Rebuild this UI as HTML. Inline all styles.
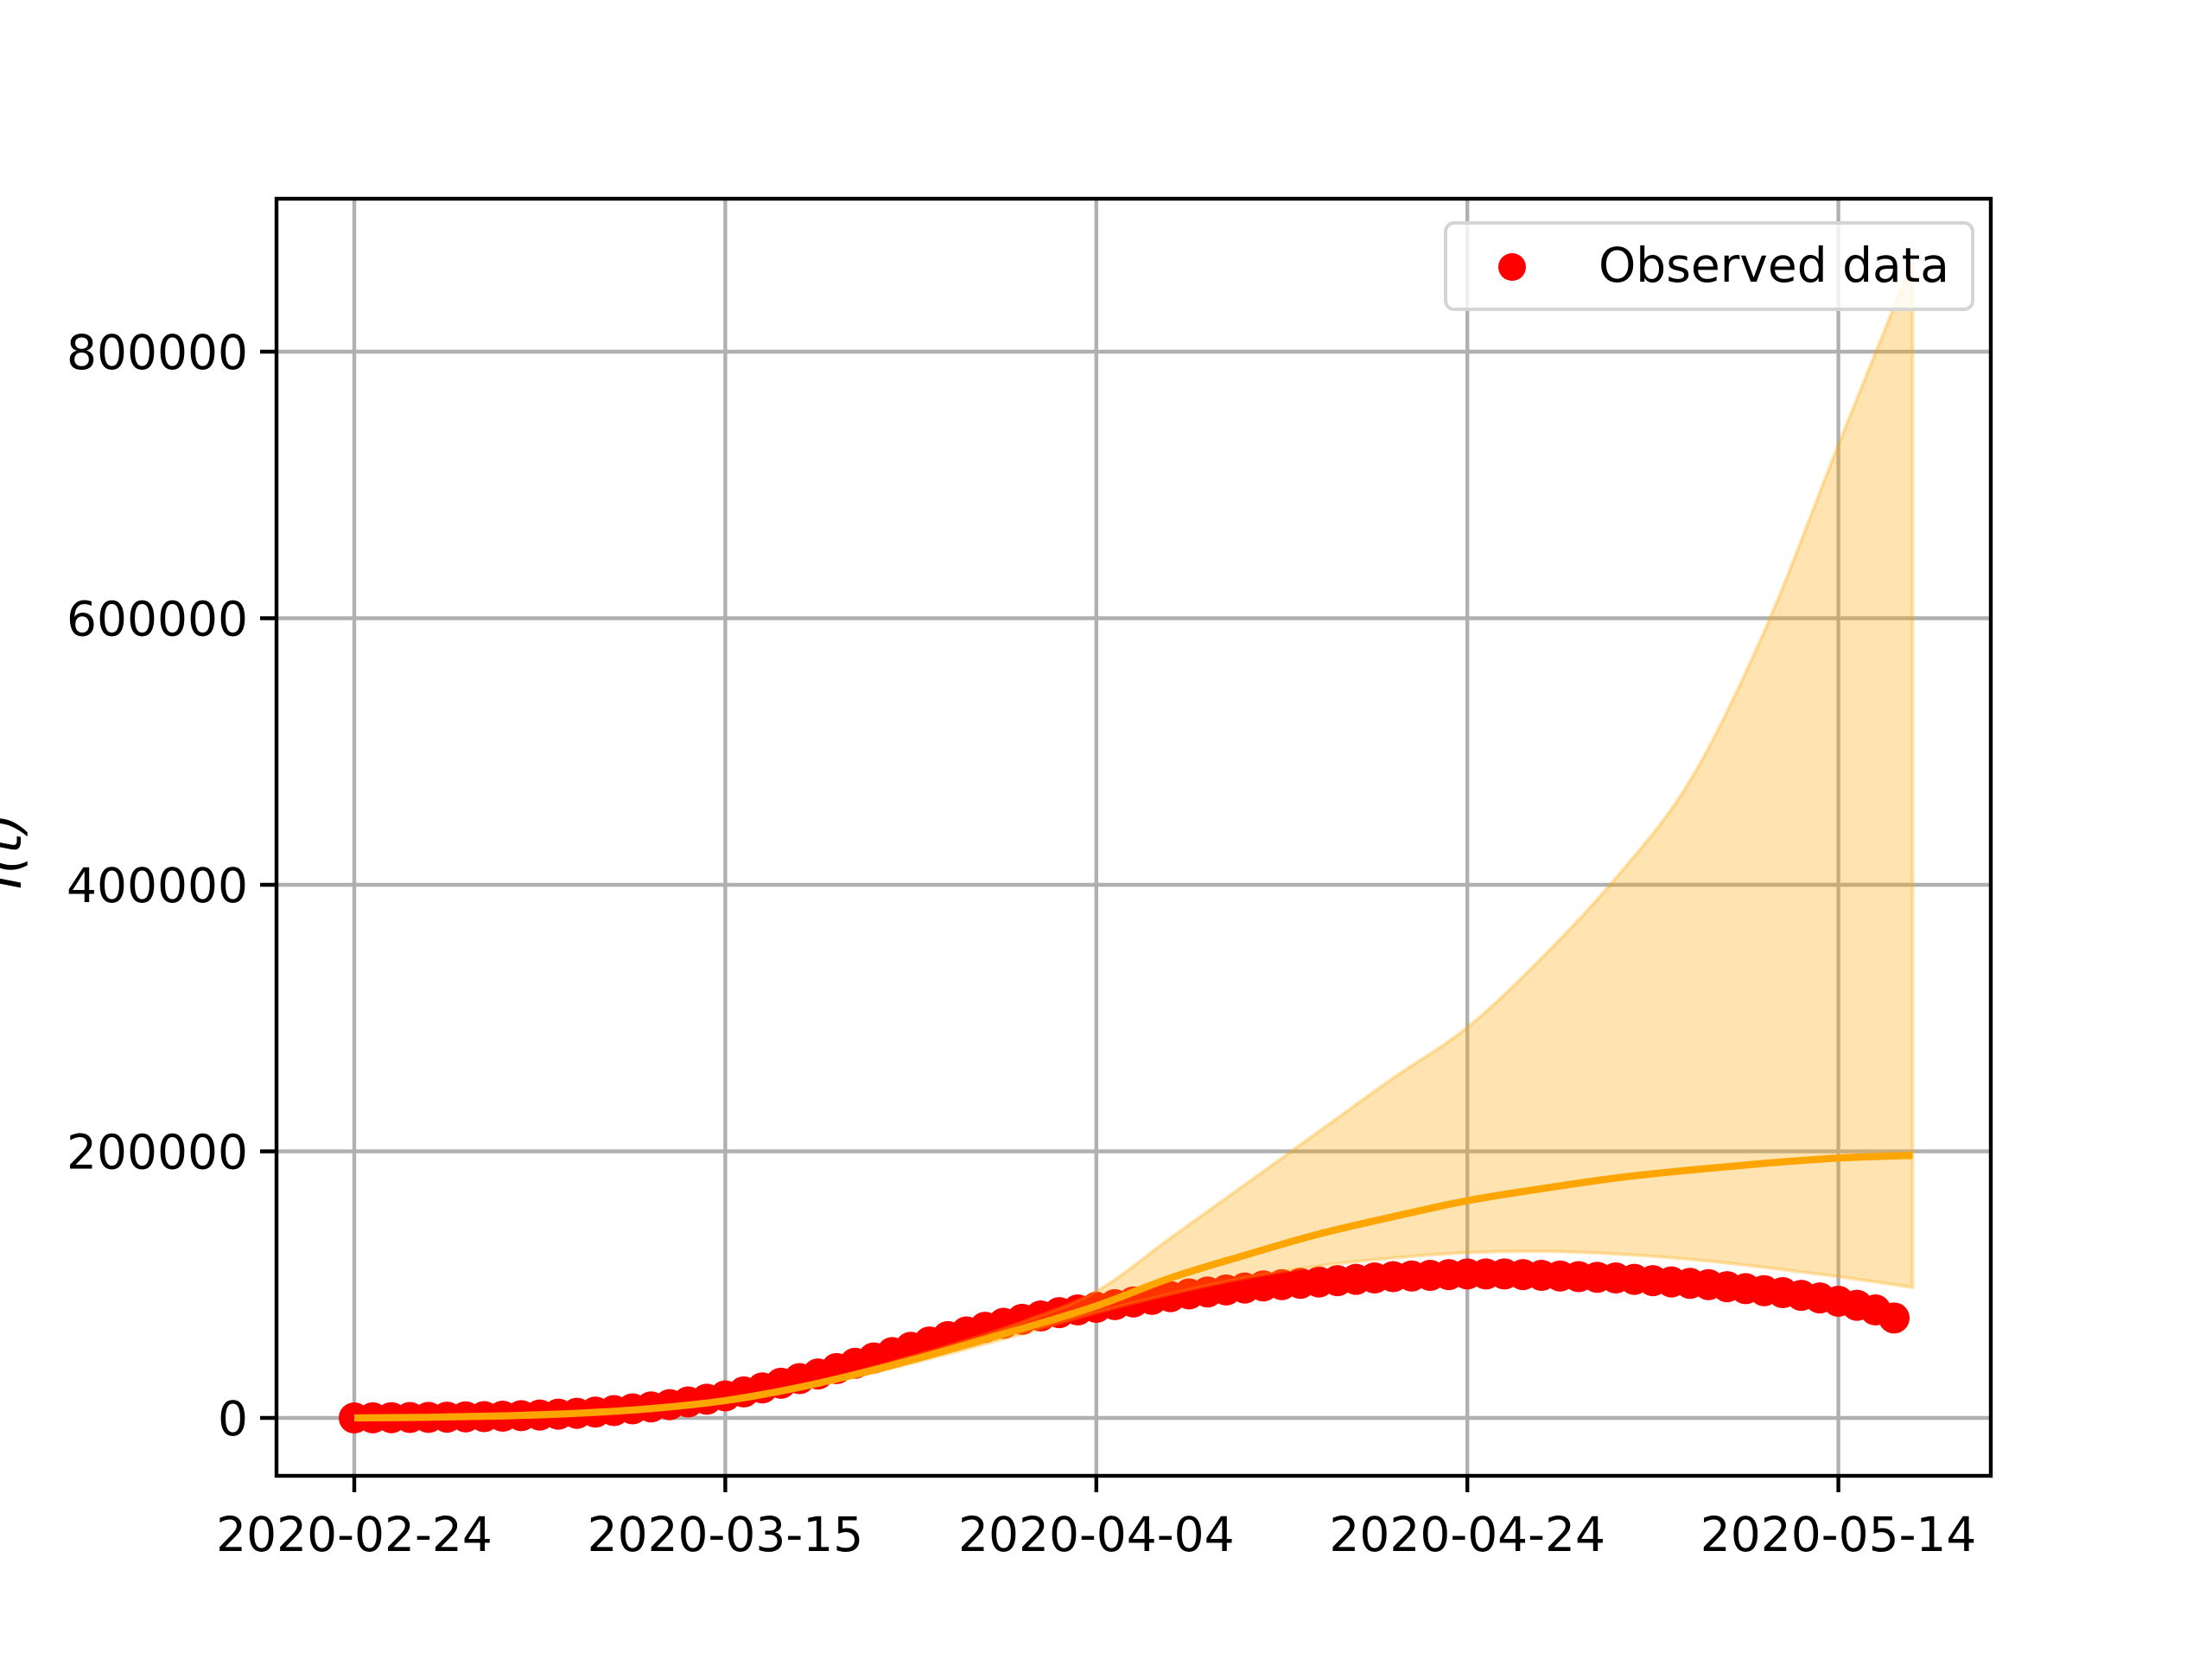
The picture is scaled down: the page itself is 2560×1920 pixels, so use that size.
<!DOCTYPE html>
<html><head><meta charset="utf-8"><style>
html,body{margin:0;padding:0;background:#fff;}
svg{display:block;font-family:"DejaVu Sans","Liberation Sans",sans-serif;}
</style></head><body>
<svg id="chart" width="2560" height="1920" viewBox="0 0 2560 1920" xmlns="http://www.w3.org/2000/svg">
<rect width="2560" height="1920" fill="#fff"/>
<g id="grid"></g>
<g id="dots"></g>
<g id="fit"></g>
<g id="band"></g>
<g id="axes"></g>
<text transform="translate(24,985) rotate(-90)" font-size="60" font-style="italic" text-anchor="middle">I(t)</text>
<g id="legend">
<rect x="1673" y="258" width="610" height="100" rx="10" fill="#fff" fill-opacity="0.8" stroke="#d5d5d5" stroke-width="4"/>
<circle cx="1750" cy="309" r="16" fill="#ff0000"/>
<text x="1850" y="326" font-size="55">Observed data</text>
</g>
</svg>
<script>
const observedDays = [...Array(84).keys()];
const observedValues = [0,0.1,0.2,0.3,0.4,0.6,0.8,1.0,1.3,1.7,2.2,2.8,3.5,4.4,5.5,6.8,8.3,10,12,14,16.5,19.5,22.5,26,29.5,33,37,41,45,49,53,57,61,64.5,68,71,74,76.5,79,81,83,85,87,89,91,93,94.5,96,97.5,99,100,101,102,103,104,105,106,106.5,107,107.5,108,108,108,107.5,107,106.5,106,105.5,105,104,103,102,101,100,98.5,97,95.5,94,92,90,87.5,84.5,81,75].map(v=>v*1000);
const fitDays = [0,4,8,12,16,20,24,28,32,36,40,44,48,52,56,60,64,68,72,76,80,84];
const fitValues = [0,0.5,1.5,3.5,7,13,23,36,51,67,84,105,122,138,151,163,172,180,186,191,195,197].map(v=>v*1000);
const upperValues = [0,0.5,1.6,3.7,7.4,14,24,38,54,72,95,135,175,215,255,293,345,405,478,590,730,868].map(v=>v*1000);
const lowerValues = [0,0.5,1.4,3.3,6.6,12,22,34,48,63,79,93,105,114,120,124,125,123,119,113,106,98].map(v=>v*1000);
const yTicks = [0,200000,400000,600000,800000];
const xTickDays = [0,20,40,60,80];
const xTickLabels = ["2020-02-24","2020-03-15","2020-04-04","2020-04-24","2020-05-14"];

const L=320,R=2304,T=230,B=1708;
const xs = d => 410 + d*21.47;
const ys = v => 1641 - v*(1234/800000);
const NS="http://www.w3.org/2000/svg";
function mk(parent,tag,attrs){const e=document.createElementNS(NS,tag);for(const k in attrs)e.setAttribute(k,attrs[k]);parent.appendChild(e);return e;}
function seg(p){let d='';for(let i=0;i<p.length-1;i++){const p0=p[Math.max(0,i-1)],p1=p[i],p2=p[i+1],p3=p[Math.min(p.length-1,i+2)];
d+=' C'+(p1[0]+(p2[0]-p0[0])/6)+','+(p1[1]+(p2[1]-p0[1])/6)+' '+(p2[0]-(p3[0]-p1[0])/6)+','+(p2[1]-(p3[1]-p1[1])/6)+' '+p2[0]+','+p2[1];}return d;}
function smooth(p){return 'M'+p[0][0]+','+p[0][1]+seg(p);}
const grid=document.getElementById('grid');
xTickDays.forEach(d=>{const l=mk(grid,'line',{x1:xs(d),x2:xs(d),y1:T,y2:B,stroke:'#b0b0b0','stroke-width':4.4});

});
yTicks.forEach(v=>{const l=mk(grid,'line',{x1:L,x2:R,y1:ys(v),y2:ys(v),stroke:'#b0b0b0','stroke-width':4.4});

});

const dots=document.getElementById('dots');
observedDays.forEach((d,i)=>{const c=mk(dots,'circle',{cx:xs(d),cy:ys(observedValues[i]),r:18,fill:'#ff0000'});

});

const fit=document.getElementById('fit');
const fpts=fitDays.map((d,i)=>[xs(d),ys(fitValues[i])]);
const fp=mk(fit,'path',{d:smooth(fpts),fill:'none',stroke:'#ffa500','stroke-width':8.3,'stroke-linejoin':'round'});



const band=document.getElementById('band');
const up=fitDays.map((d,i)=>[xs(d),ys(upperValues[i])]);
const lo=fitDays.map((d,i)=>[xs(d),ys(lowerValues[i])]).reverse();
const bd=smooth(up)+' L'+lo[0][0]+','+lo[0][1]+seg(lo)+' Z';
const bp=mk(band,'path',{d:bd,fill:'#ffa500','fill-opacity':0.3,stroke:'#ffa500','stroke-opacity':0.3,'stroke-width':4});



const axes=document.getElementById('axes');
const fr=mk(axes,'rect',{x:L,y:T,width:R-L,height:B-T,fill:'none',stroke:'#000','stroke-width':4.4});


yTicks.forEach(v=>{mk(axes,'line',{x1:L-19,x2:L,y1:ys(v),y2:ys(v),stroke:'#000','stroke-width':4.4});
const t=mk(axes,'text',{x:L-33,y:ys(v)+20,'font-size':55,'text-anchor':'end'});t.textContent=String(v);

});
xTickDays.forEach((d,i)=>{mk(axes,'line',{x1:xs(d),x2:xs(d),y1:B,y2:B+19,stroke:'#000','stroke-width':4.4});
const t=mk(axes,'text',{x:xs(d),y:B+87,'font-size':55,'text-anchor':'middle'});t.textContent=xTickLabels[i];

});
document.getElementById('chart').appendChild(document.getElementById('legend'));
</script>
</body></html>
